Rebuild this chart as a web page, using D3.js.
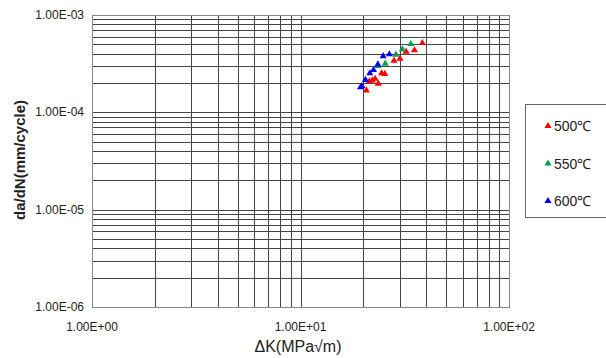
<!DOCTYPE html>
<html>
<head>
<meta charset="utf-8">
<script src="https://d3js.org/d3.v7.min.js"></script>
<style>
  body { margin: 0; background: #fff; }
  text { font-family: "Liberation Sans", Arial, sans-serif; fill: #222; }
</style>
</head>
<body>
<script>
// ΔK (MPa√m) and da/dN (mm/cycle) per temperature
const dk500 = [38.4, 35.2, 32.1, 30.0, 28.1, 25.4, 24.5, 22.8, 22.1, 21.4, 23.6, 20.7];
const da500 = [5.15e-4, 4.34e-4, 4.2e-4, 3.56e-4, 3.39e-4, 2.48e-4, 2.52e-4, 2.21e-4, 2.13e-4, 2.08e-4, 1.97e-4, 1.68e-4];
const dk550 = [33.8, 30.8, 28.7, 25.5, 23.5];
const da550 = [5.03e-4, 4.44e-4, 3.91e-4, 3.16e-4, 2.99e-4];
const dk600 = [26.7, 24.9, 23.5, 22.4, 21.5, 20.5, 19.7, 19.4];
const da600 = [3.95e-4, 3.77e-4, 3.11e-4, 2.72e-4, 2.52e-4, 2.15e-4, 1.86e-4, 1.81e-4];

const seriesNames = ["500℃", "550℃", "600℃"];
const seriesColors = ["#ff0000", "#00a050", "#0000ff"];
const xTicks = [1, 10, 100];
const yTicks = [1e-6, 1e-5, 1e-4, 1e-3];
const xTickLabels = ["1.00E+00", "1.00E+01", "1.00E+02"];
const yTickLabels = ["1.00E-06", "1.00E-05", "1.00E-04", "1.00E-03"];

const width = 606, height = 358;
const plotL = 92, plotR = 509, plotT = 15, plotB = 307;

const svg = d3.select("body").append("svg")
  .attr("width", width).attr("height", height);

const x = d3.scaleLog().domain([1, 100]).range([plotL, plotR]);
const y = d3.scaleLog().domain([1e-6, 1e-3]).range([plotB, plotT]);

// minor grid values
function logGrid(lo, hi) {
  const out = [];
  for (let d = lo; d < hi * 0.999; d *= 10)
    for (let k = 1; k <= 9; k++) out.push(d * k);
  out.push(hi);
  return out;
}

const grid = svg.append("g");
grid.selectAll(".vx").data(logGrid(1, 100)).enter().append("line")
  .attr("x1", d => Math.round(x(d)) + 0.5).attr("x2", d => Math.round(x(d)) + 0.5)
  .attr("y1", plotT).attr("y2", plotB)
  .attr("stroke", "#444").attr("stroke-width", 1);
grid.selectAll(".hy").data(logGrid(1e-6, 1e-3)).enter().append("line")
  .attr("y1", d => Math.round(y(d)) + 0.5).attr("y2", d => Math.round(y(d)) + 0.5)
  .attr("x1", plotL).attr("x2", plotR)
  .attr("stroke", "#444").attr("stroke-width", 1);

svg.append("rect")
  .attr("x", plotL + 0.5).attr("y", plotT + 0.5)
  .attr("width", plotR - plotL).attr("height", plotB - plotT)
  .attr("fill", "none").attr("stroke", "#888");

// tick labels
svg.selectAll(".xl").data(xTicks).enter().append("text")
  .attr("x", d => x(d)).attr("y", 331)
  .attr("text-anchor", "middle").attr("font-size", 12)
  .text((d, i) => xTickLabels[i]);
svg.selectAll(".yl").data(yTicks).enter().append("text")
  .attr("x", 84).attr("y", d => y(d) + 4)
  .attr("text-anchor", "end").attr("font-size", 12)
  .text((d, i) => yTickLabels[i]);

// axis titles
svg.append("text").attr("x", 298).attr("y", 352)
  .attr("text-anchor", "middle").attr("font-size", 16)
  .text("ΔK(MPa√m)");
svg.append("text")
  .attr("transform", "translate(25,160) rotate(-90)")
  .attr("text-anchor", "middle").attr("font-size", 15).attr("font-weight", "bold")
  .text("da/dN(mm/cycle)");

// data
const tri = d3.symbol().type(d3.symbolTriangle).size(22);
const series = [
  { dk: dk500, da: da500 },
  { dk: dk550, da: da550 },
  { dk: dk600, da: da600 }
];
series.forEach((s, i) => {
  svg.append("g").selectAll("path")
    .data(s.dk.map((v, j) => [v, s.da[j]]))
    .enter().append("path")
    .attr("d", tri)
    .attr("transform", d => `translate(${x(d[0])},${y(d[1])})`)
    .attr("fill", seriesColors[i]);
});

// legend
const lg = svg.append("g");
lg.append("rect").attr("x", 525.5).attr("y", 104.5)
  .attr("width", 100).attr("height", 113)
  .attr("fill", "#fff").attr("stroke", "#666");
seriesNames.forEach((n, i) => {
  const ly = 126 + i * 37.5;
  lg.append("path").attr("d", tri).attr("fill", seriesColors[i])
    .attr("transform", `translate(548,${ly})`);
  lg.append("text").attr("x", 554).attr("y", ly + 5)
    .attr("font-size", 14).text(n);
});
</script>
</body>
</html>
